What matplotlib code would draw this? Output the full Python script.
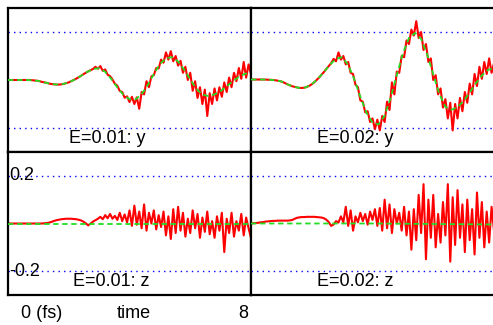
#!/usr/bin/env python
# -*- coding: utf-8 -*-
"""
四格图: E=0.01 / E=0.02 下 y, z 分量随时间变化 (红: 噪声结果, 绿: 平滑参考)
"""

import numpy as np
import matplotlib
matplotlib.use('Agg')
import matplotlib.pyplot as plt

plt.rcParams['font.family'] = ['Liberation Sans', 'DejaVu Sans']

# 时间轴 (fs)
T_MAX = 8.0
t_red = np.linspace(0, T_MAX, 101)   # 红线采样点
t_green = np.linspace(0, T_MAX, 41)  # 绿线采样点

# ---- E=0.01, y 分量 ----
green_y1 = [0.000, 0.000, 0.000, 0.000, -0.001, -0.004, -0.010, -0.016, -0.019, -0.017,
            -0.010, 0.002, 0.017, 0.033, 0.046, 0.049, 0.034, 0.004, -0.031, -0.062,
            -0.080, -0.081, -0.059, -0.021, 0.025, 0.066, 0.091, 0.095, 0.077, 0.043,
            0.002, -0.036, -0.061, -0.067, -0.060, -0.046, -0.026, -0.006, 0.013, 0.026,
            0.030]
red_y1 = [0.000, 0.000, 0.000, 0.000, 0.000, 0.000, 0.000, 0.000, 0.000, 0.000,
          -0.001, -0.002, -0.003, -0.005, -0.008, -0.010, -0.012, -0.015, -0.017, -0.018,
          -0.019, -0.019, -0.018, -0.016, -0.013, -0.010, -0.005, 0.000, 0.005, 0.011,
          0.017, 0.024, 0.030, 0.036, 0.041, 0.046, 0.055, 0.047, 0.058, 0.038,
          0.044, 0.022, 0.016, 0.002, -0.016, -0.024, -0.046, -0.050, -0.074, -0.068,
          -0.092, -0.070, -0.100, -0.072, -0.120, -0.050, -0.060, -0.005, -0.030, 0.015,
          0.020, 0.050, 0.048, 0.085, 0.072, 0.115, 0.085, 0.120, 0.078, 0.100,
          0.060, 0.080, 0.030, 0.055, 0.000, 0.030, -0.045, -0.005, -0.075, -0.030,
          -0.100, -0.040, -0.150, -0.055, -0.100, -0.035, -0.085, -0.030, -0.070, -0.010,
          -0.050, 0.010, -0.030, 0.030, -0.005, 0.050, 0.005, 0.075, 0.010, 0.065,
          0.025]

# ---- E=0.02, y 分量 ----
green_y2 = [0.002, 0.002, 0.002, 0.001, -0.001, -0.006, -0.018, -0.028, -0.033, -0.031,
            -0.018, 0.005, 0.033, 0.064, 0.088, 0.095, 0.063, 0.003, -0.070, -0.136,
            -0.178, -0.185, -0.148, -0.073, 0.021, 0.111, 0.175, 0.196, 0.171, 0.107,
            0.023, -0.058, -0.112, -0.124, -0.113, -0.087, -0.052, -0.014, 0.019, 0.042,
            0.050]
red_y2 = [0.002, 0.002, 0.002, 0.002, 0.002, 0.002, 0.002, 0.001, 0.001, 0.000,
          -0.001, -0.003, -0.005, -0.008, -0.013, -0.018, -0.022, -0.026, -0.029, -0.031,
          -0.033, -0.033, -0.032, -0.029, -0.024, -0.018, -0.010, 0.000, 0.010, 0.022,
          0.033, 0.046, 0.058, 0.070, 0.088, 0.078, 0.115, 0.085, 0.100, 0.065,
          0.075, 0.030, 0.025, -0.020, -0.030, -0.085, -0.090, -0.135, -0.130, -0.175,
          -0.160, -0.205, -0.165, -0.210, -0.150, -0.175, -0.090, -0.125, -0.010, -0.060,
          0.035, 0.030, 0.100, 0.095, 0.165, 0.150, 0.210, 0.185, 0.245, 0.175,
          0.200, 0.125, 0.150, 0.075, 0.090, 0.000, 0.020, -0.060, -0.035, -0.115,
          -0.080, -0.160, -0.095, -0.210, -0.100, -0.160, -0.075, -0.130, -0.050, -0.095,
          -0.015, -0.060, 0.025, -0.025, 0.055, 0.005, 0.075, 0.025, 0.090, 0.030,
          0.070]

# ---- E=0.01, z 分量 ----
t_green_z = [0.0, 4.0, 8.0]
green_z1 = [0.000, 0.000, 0.000]
red_z1 = [0.000, 0.000, 0.000, 0.000, 0.000, 0.000, 0.000, 0.000, 0.000, 0.000,
          0.000, 0.000, 0.000, 0.000, 0.000, 0.001, 0.002, 0.004, 0.007, 0.011,
          0.014, 0.016, 0.018, 0.019, 0.020, 0.020, 0.020, 0.019, 0.018, 0.016,
          0.013, 0.008, 0.001, -0.008, 0.000, 0.008, 0.014, 0.020, 0.028, 0.018,
          0.035, 0.022, 0.040, 0.020, 0.032, 0.015, 0.045, 0.010, 0.038, 0.005,
          0.055, -0.010, 0.075, -0.005, 0.050, -0.020, 0.080, -0.030, 0.045, 0.000,
          0.055, -0.025, 0.035, -0.015, 0.050, -0.050, 0.030, -0.065, 0.060, -0.040,
          0.070, -0.030, 0.045, -0.055, 0.020, -0.040, 0.055, -0.020, 0.040, -0.060,
          0.025, -0.035, 0.050, -0.045, 0.010, -0.060, 0.030, -0.030, 0.045, -0.120,
          0.020, -0.040, 0.045, -0.055, 0.010, -0.030, 0.040, -0.050, 0.025, -0.020,
          -0.060]

# ---- E=0.02, z 分量 ----
green_z2 = [0.000, 0.000, -0.004]
red_z2 = [0.000, 0.001, 0.002, 0.003, 0.005, 0.006, 0.008, 0.009, 0.010, 0.011,
          0.011, 0.012, 0.012, 0.012, 0.012, 0.012, 0.013, 0.015, 0.020, 0.024,
          0.026, 0.027, 0.027, 0.028, 0.028, 0.028, 0.028, 0.027, 0.026, 0.025,
          0.022, 0.016, 0.006, -0.010, -0.004, 0.010, 0.004, 0.030, 0.005, 0.070,
          -0.010, 0.055, -0.030, 0.030, 0.005, 0.045, 0.010, 0.040, -0.005, 0.050,
          0.015, 0.060, -0.010, 0.065, -0.030, 0.100, -0.020, 0.080, -0.040, 0.060,
          0.000, 0.045, -0.030, 0.070, -0.050, 0.050, -0.110, 0.060, -0.070, 0.120,
          -0.040, 0.165, -0.150, 0.100, -0.060, 0.120, -0.100, 0.040, -0.080, 0.090,
          -0.050, 0.165, -0.160, 0.110, -0.090, 0.140, -0.060, 0.080, -0.120, 0.100,
          -0.070, 0.060, -0.130, 0.130, -0.060, 0.090, -0.100, 0.050, -0.080, 0.070,
          -0.030]

REF_LEVEL = 0.2  # 蓝色点线位置
FS = 13


def draw_panel(ax, red, green, t_g, label, label_x, show_ticks=False):
    """绘制单个子图"""
    for lv in (REF_LEVEL, -REF_LEVEL):
        ax.axhline(lv, color='blue', linestyle=(0, (1, 3)), linewidth=1.0, zorder=1)
    ax.plot(t_red, red, color='red', linewidth=1.5, zorder=2)
    ax.plot(t_g, green, color='#22dd22', linestyle=(0, (3, 2)), linewidth=1.3, zorder=3)

    ax.set_xlim(0, T_MAX)
    ax.set_ylim(-0.3, 0.3)
    ax.set_xticks([])
    ax.set_yticks([])
    for sp in ax.spines.values():
        sp.set_linewidth(1.6)
        sp.set_color('black')

    ax.text(label_x, 0.06, label, transform=ax.transAxes, fontsize=FS,
            ha='center', va='baseline', zorder=4)

    if show_ticks:
        ax.text(0.03, REF_LEVEL, '0.2', fontsize=FS, ha='left', va='center', zorder=4)
        ax.text(0.026, -REF_LEVEL, '-0.2', fontsize=FS, ha='left', va='center', zorder=4)


def main():
    fig = plt.figure(figsize=(4.93, 3.25), dpi=100)

    W = 243 / 493
    ax_y1 = fig.add_axes([8 / 493, 173 / 325, W, 144 / 325])
    ax_y2 = fig.add_axes([251 / 493, 173 / 325, W, 144 / 325])
    ax_z1 = fig.add_axes([8 / 493, 30 / 325, W, 143 / 325])
    ax_z2 = fig.add_axes([251 / 493, 30 / 325, W, 143 / 325])

    draw_panel(ax_y1, red_y1, green_y1, t_green, 'E=0.01: y', 0.41)
    draw_panel(ax_y2, red_y2, green_y2, t_green, 'E=0.02: y', 0.43)
    draw_panel(ax_z1, red_z1, green_z1, t_green_z, 'E=0.01: z', 0.425, show_ticks=True)
    draw_panel(ax_z2, red_z2, green_z2, t_green_z, 'E=0.02: z', 0.43)

    # 底部时间轴说明
    fig.text(42 / 493, 0.036, '0 (fs)', fontsize=FS, ha='center', va='center')
    fig.text(134 / 493, 0.036, 'time', fontsize=FS, ha='center', va='center')
    fig.text(243 / 493, 0.036, '8', fontsize=FS, ha='center', va='center')

    fig.savefig('out.png', dpi=100)
    plt.close(fig)


if __name__ == '__main__':
    main()
